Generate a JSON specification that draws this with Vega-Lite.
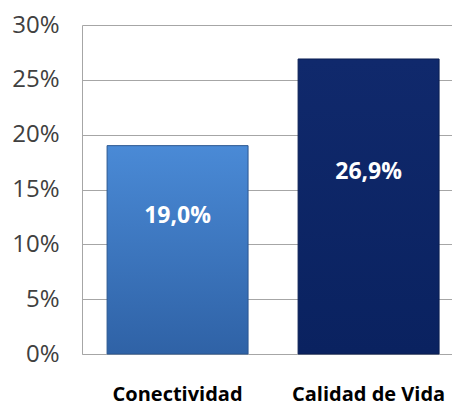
{
  "$schema": "https://vega.github.io/schema/vega-lite/v6.json",
  "width": 370,
  "height": 329,
  "autosize": "none",
  "padding": {"left": 82, "top": 25, "right": 0, "bottom": 49},
  "background": "white",
  "config": {
    "view": {"stroke": null},
    "font": "Open Sans",
    "locale": {"number": {"decimal": ",", "thousands": ".", "grouping": [3], "currency": ["", " €"]}}
  },
  "data": {
    "values": [
      {"categoria": "Conectividad", "valor": 0.19},
      {"categoria": "Calidad de Vida", "valor": 0.269}
    ]
  },
  "encoding": {
    "x": {
      "field": "categoria",
      "type": "nominal",
      "sort": ["Conectividad", "Calidad de Vida"],
      "scale": {"paddingInner": 0.262, "paddingOuter": 0.0995, "align": 0.66},
      "axis": {
        "title": null,
        "labelAngle": 0,
        "labelFontSize": 20,
        "labelFontWeight": "bold",
        "labelColor": "#000000",
        "labelPadding": 30,
        "ticks": false,
        "domainColor": "#A6A6A6"
      }
    },
    "y": {
      "field": "valor",
      "type": "quantitative",
      "scale": {"domain": [0, 0.3], "nice": false},
      "axis": {
        "title": null,
        "values": [0, 0.05, 0.1, 0.15, 0.2, 0.25, 0.3],
        "format": ".0%",
        "labelFontSize": 24,
        "labelColor": "#404040",
        "labelPadding": 23,
        "ticks": false,
        "domainColor": "#A6A6A6",
        "gridColor": "#A6A6A6"
      }
    }
  },
  "layer": [
    {
      "transform": [{"filter": "datum.categoria === 'Conectividad'"}],
      "mark": {
        "type": "bar",
        "stroke": "#2A5690",
        "strokeWidth": 1,
        "color": {"gradient": "linear", "x1": 0, "y1": 0, "x2": 0, "y2": 1, "stops": [{"offset": 0, "color": "#4A8AD6"}, {"offset": 1, "color": "#2F62A6"}]}
      }
    },
    {
      "transform": [{"filter": "datum.categoria === 'Calidad de Vida'"}],
      "mark": {
        "type": "bar",
        "stroke": "#0A1E52",
        "strokeWidth": 1,
        "color": {"gradient": "linear", "x1": 0, "y1": 0, "x2": 0, "y2": 1, "stops": [{"offset": 0, "color": "#10296C"}, {"offset": 1, "color": "#0A2260"}]}
      }
    },
    {
      "mark": {"type": "text", "dy": -34, "color": "#FFFFFF", "fontSize": 23, "fontWeight": "bold", "baseline": "middle"},
      "encoding": {
        "y": {"field": "valor", "type": "quantitative", "scale": {"domain": [0, 0.6], "nice": false}, "axis": null},
        "text": {"field": "valor", "type": "quantitative", "format": ".1%"}
      }
    }
  ],
  "resolve": {"scale": {"y": "independent"}}
}
